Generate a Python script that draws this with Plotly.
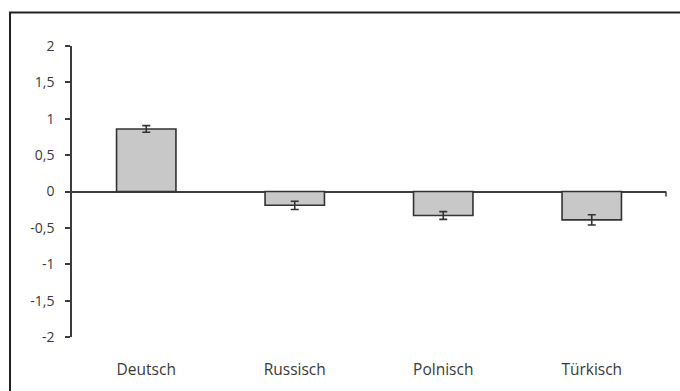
import plotly.graph_objects as go

# Mean scores per language group with standard errors
categories = ["Deutsch", "Russisch", "Polnisch", "Türkisch"]
means = [0.86, -0.19, -0.33, -0.39]
errors = [0.046, 0.057, 0.053, 0.07]
y_ticks = [-2, -1.5, -1, -0.5, 0, 0.5, 1, 1.5, 2]
y_tick_labels = ["-2", "-1,5", "-1", "-0,5", "0", "0,5", "1", "1,5", "2"]

W, H = 680, 391
M_L, M_R, M_T, M_B = 72, 14, 46, 54
TEXT = "#3a3a3a"
LINE = "#3c3c3c"

fig = go.Figure(
    go.Bar(
        x=categories,
        y=means,
        width=0.40,
        marker=dict(color="#c8c8c8", line=dict(color="#333333", width=1.6)),
        error_y=dict(type="data", array=errors, visible=True,
                     color="#333333", thickness=1.6, width=4),
    )
)

plot_w = W - M_L - M_R
plot_h = H - M_T - M_B


def px_x(px):
    return (px - M_L) / plot_w


def px_y(py):
    return (H - M_B - py) / plot_h


shapes = [
    # outer frame (left and top edges)
    dict(type="line", xref="paper", yref="paper",
         x0=px_x(10), x1=px_x(10), y0=px_y(H + 5), y1=px_y(12.5),
         line=dict(color="#222222", width=2)),
    dict(type="line", xref="paper", yref="paper",
         x0=px_x(9), x1=px_x(W + 5), y0=px_y(12.5), y1=px_y(12.5),
         line=dict(color="#222222", width=2)),
    # small tick at the right end of the zero line
    dict(type="line", xref="paper", yref="y",
         x0=1, x1=1, y0=0, y1=-5 * 4 / plot_h,
         line=dict(color=LINE, width=1.5)),
]

fig.update_layout(
    width=W, height=H,
    margin=dict(l=M_L, r=M_R, t=M_T, b=M_B),
    paper_bgcolor="white", plot_bgcolor="white",
    showlegend=False,
    bargap=0.6,
    font=dict(family="Open Sans", color=TEXT),
    shapes=shapes,
    xaxis=dict(
        range=[-0.5, 3.5],
        showline=False, showgrid=False, zeroline=False,
        ticks="outside", ticklen=18, tickcolor="rgba(0,0,0,0)",
        tickfont=dict(size=15.5, color=TEXT),
    ),
    yaxis=dict(
        range=[-2, 2],
        tickvals=y_ticks, ticktext=y_tick_labels,
        showline=True, linecolor=LINE, linewidth=1.5,
        showgrid=False,
        zeroline=True, zerolinecolor=LINE, zerolinewidth=1.5,
        ticks="outside", ticklen=5, tickwidth=1.5, tickcolor=LINE,
        ticklabelstandoff=8,
        tickfont=dict(size=14, color=TEXT),
    ),
)

fig.write_html("out.html")
